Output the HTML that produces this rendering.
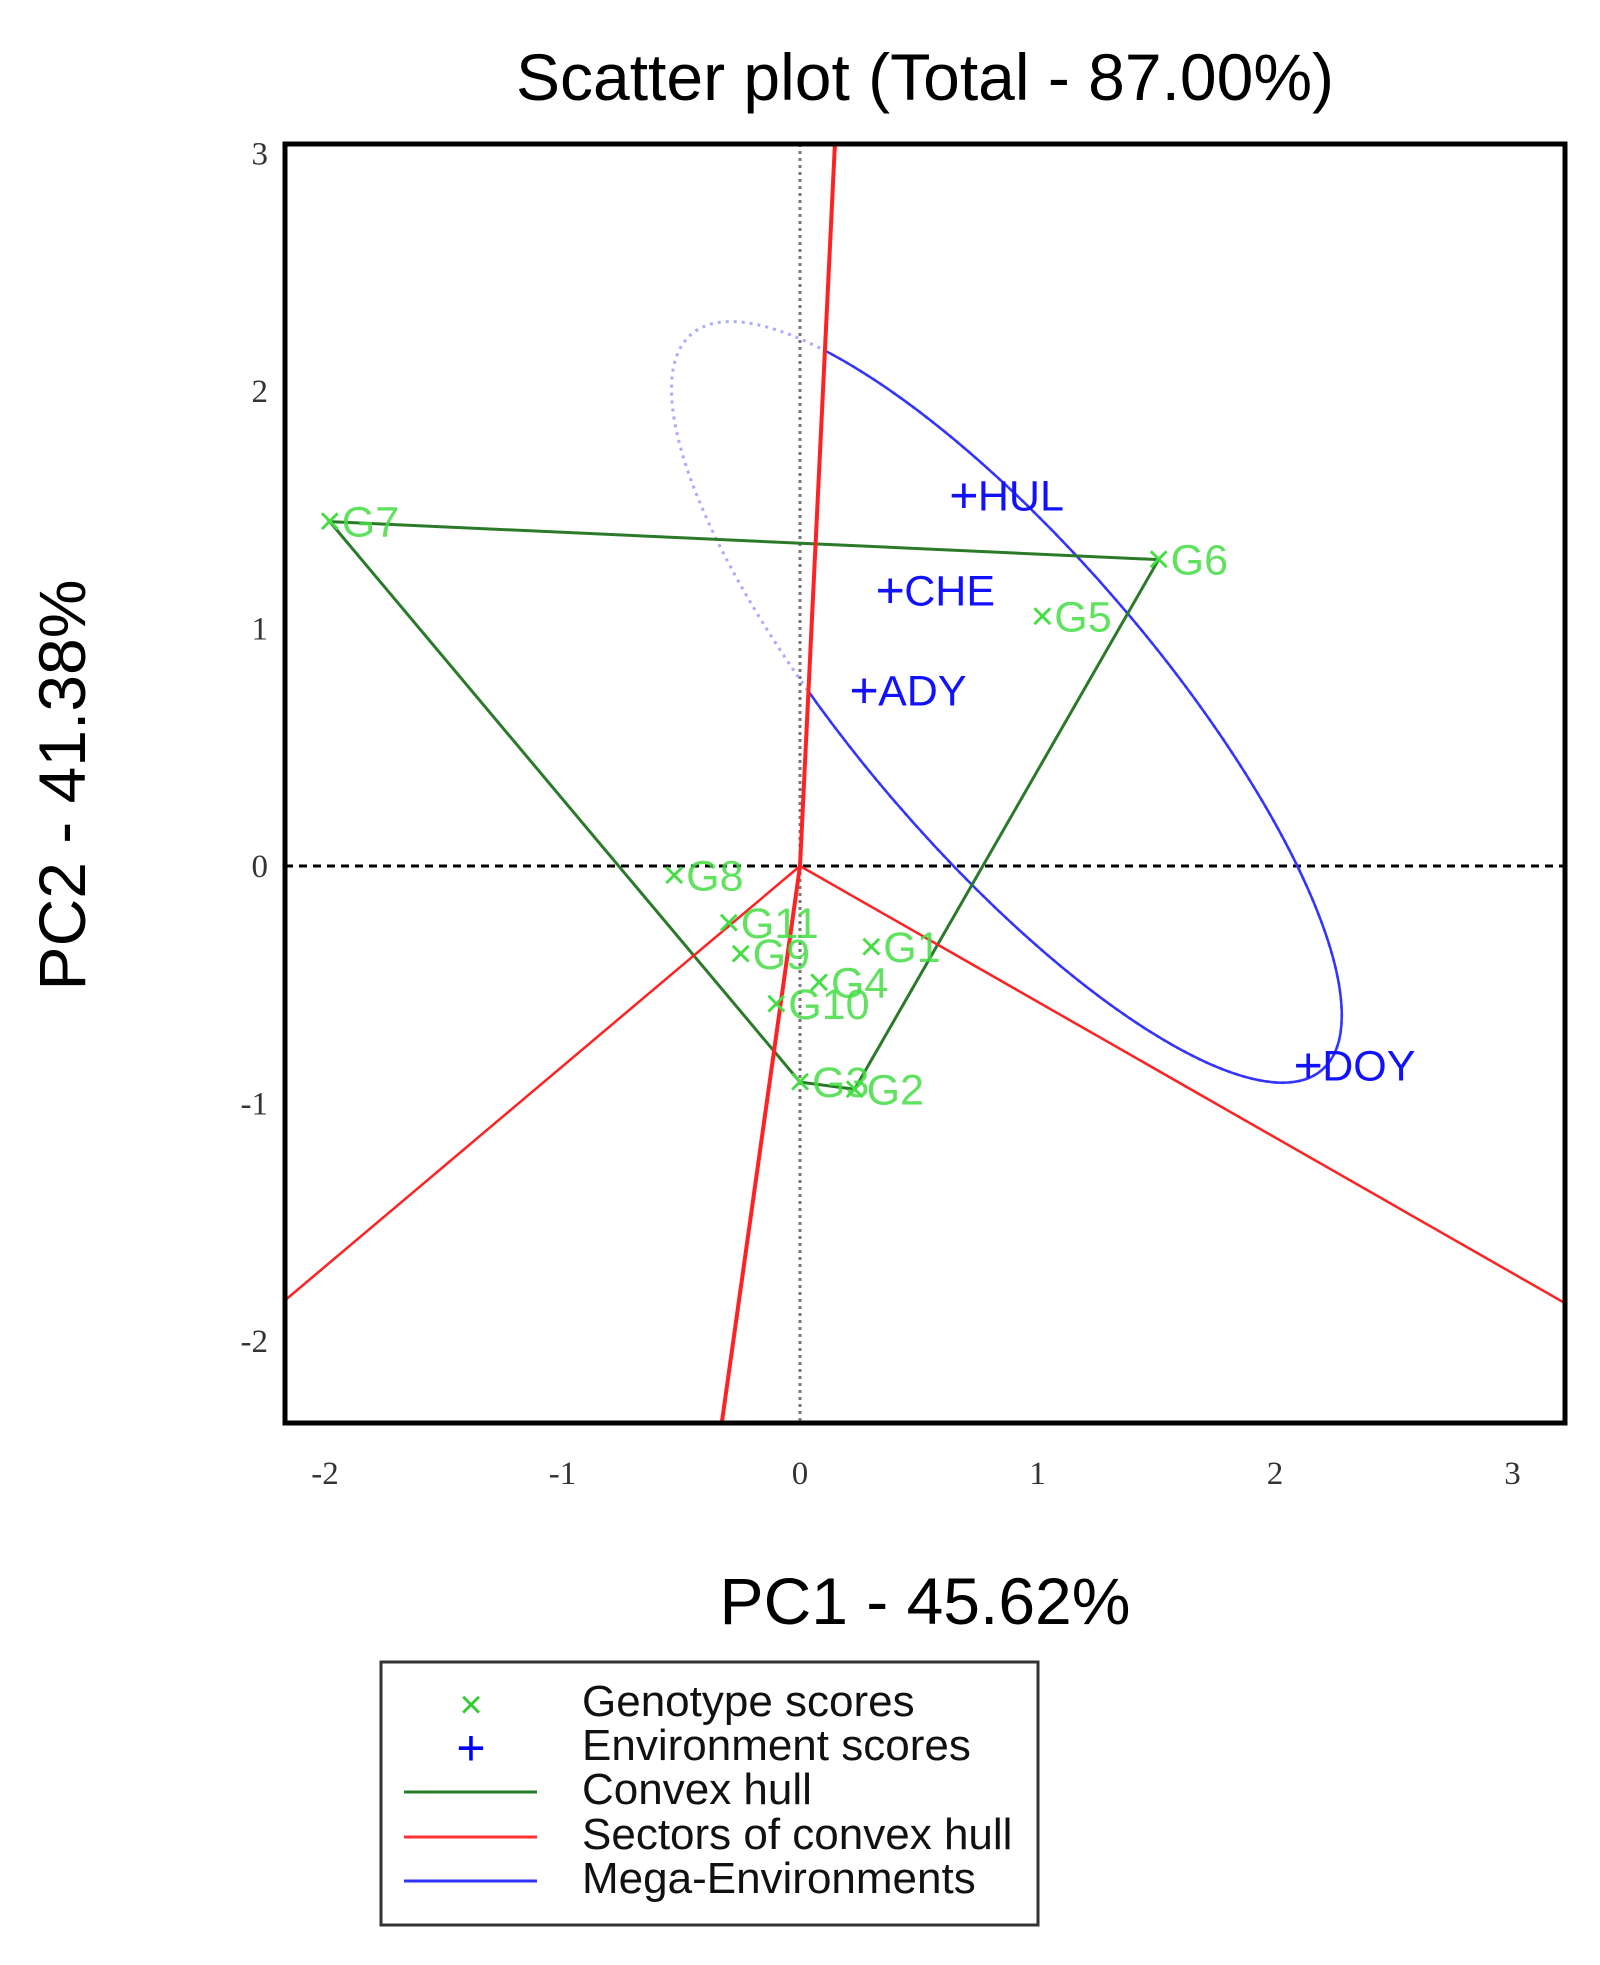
<!DOCTYPE html>
<html><head><meta charset="utf-8"><style>
html,body{margin:0;padding:0;background:#fff;}
svg{display:block;}
</style></head><body>
<svg id="chart" width="1600" height="1965" viewBox="0 0 1600 1965" xmlns="http://www.w3.org/2000/svg">
<defs><clipPath id="plotclip"><rect x="285" y="144" width="1280" height="1279"/></clipPath></defs>
<text x="925" y="100" text-anchor="middle" font-family="Liberation Sans, sans-serif" font-size="66" fill="#000">Scatter plot (Total - 87.00%)</text>
<text x="925" y="1624" text-anchor="middle" font-family="Liberation Sans, sans-serif" font-size="66" fill="#000">PC1 - 45.62%</text>
<text transform="translate(85,785) rotate(-90)" text-anchor="middle" font-family="Liberation Sans, sans-serif" font-size="66" fill="#000">PC2 - 41.38%</text>
<g id="plot" clip-path="url(#plotclip)"></g>
<g id="labels"></g>
<rect x="285" y="144" width="1280" height="1279" fill="none" stroke="#000" stroke-width="5"/>
<g id="ticks"></g>
<g>
<rect x="381" y="1662" width="657" height="263" fill="#fff" stroke="#333" stroke-width="3"/>
<text x="471" y="1718" text-anchor="middle" font-family="Liberation Sans, sans-serif" font-size="40" fill="#3c3">×</text>
<text x="582" y="1716" font-family="Liberation Sans, sans-serif" font-size="44" fill="#111">Genotype scores</text>
<text x="471" y="1765" text-anchor="middle" font-family="Liberation Sans, sans-serif" font-size="50" fill="#00f">+</text>
<text x="582" y="1760" font-family="Liberation Sans, sans-serif" font-size="44" fill="#111">Environment scores</text>
<line x1="404" y1="1792" x2="537" y2="1792" stroke="#2a7a2a" stroke-width="3"/>
<text x="582" y="1804" font-family="Liberation Sans, sans-serif" font-size="44" fill="#111">Convex hull</text>
<line x1="404" y1="1837" x2="537" y2="1837" stroke="#f33" stroke-width="3"/>
<text x="582" y="1849" font-family="Liberation Sans, sans-serif" font-size="44" fill="#111">Sectors of convex hull</text>
<line x1="404" y1="1881" x2="537" y2="1881" stroke="#33f" stroke-width="3"/>
<text x="582" y="1893" font-family="Liberation Sans, sans-serif" font-size="44" fill="#111">Mega-Environments</text>
</g>
</svg>
<script>
const genotypeNames = ["G1","G2","G3","G4","G5","G6","G7","G8","G9","G10","G11"];
const genotypePC1 = [0.30,0.23,0.00,0.08,1.02,1.51,-1.98,-0.53,-0.25,-0.10,-0.30];
const genotypePC2 = [-0.34,-0.94,-0.91,-0.49,1.05,1.29,1.45,-0.04,-0.37,-0.58,-0.24];
const envNames = ["HUL","CHE","ADY","DOY"];
const envPC1 = [0.69,0.38,0.27,2.14];
const envPC2 = [1.56,1.16,0.74,-0.84];
const hullOrder = ["G7","G6","G2","G3"];
const sectorRayPC1 = [0.147,-0.33,-2.17,3.22];
const sectorRayPC2 = [3.04,-2.35,-1.83,-1.84];
const megaEllipse = [0.87,0.69,2.04,0.63,49.4]; // cx, cy, semi-major, semi-minor, angle(deg)
const xTicks = [-2,-1,0,1,2,3];
const yTicks = [-2,-1,0,1,2,3];

const NS="http://www.w3.org/2000/svg";
const X0=800,Y0=866,U=237.5;
const sx=v=>X0+v*U, sy=v=>Y0-v*U;
function mk(tag,attrs,parent){const e=document.createElementNS(NS,tag);for(const k in attrs)e.setAttribute(k,attrs[k]);parent.appendChild(e);return e;}
const plot=document.getElementById('plot'), labels=document.getElementById('labels'), ticks=document.getElementById('ticks');

let e=mk('line',{x1:285,x2:1565,y1:sy(0),y2:sy(0),stroke:'#000','stroke-width':3,'stroke-dasharray':'8 6'},plot);


e=mk('line',{x1:sx(0),x2:sx(0),y1:144,y2:1423,stroke:'#777','stroke-width':3,'stroke-dasharray':'3 4'},plot);



// ellipse
const [ecx,ecy,ea,eb,eang]=megaEllipse;
e=mk('ellipse',{cx:sx(ecx),cy:sy(ecy),rx:ea*U,ry:eb*U,transform:`rotate(${eang} ${sx(ecx)} ${sy(ecy)})`,fill:'none',stroke:'#aaf','stroke-width':3,'stroke-dasharray':'3 5'},plot);


const cp=mk('clipPath',{id:'rightclip'},document.querySelector('defs'));
const dx=sx(sectorRayPC1[0])-X0, dy=sy(sectorRayPC2[0])-Y0, dl=Math.hypot(dx,dy);
const ux=dx/dl, uy=dy/dl;
const p1=[X0+ux*3000,Y0+uy*3000], p2=[X0-ux*3000,Y0-uy*3000];
mk('polygon',{points:`${p1[0]},${p1[1]} ${p1[0]+4000},${p1[1]} ${p2[0]+4000},${p2[1]} ${p2[0]},${p2[1]}`},cp);
const eg=mk('g',{'clip-path':'url(#rightclip)'},plot);
e=mk('ellipse',{cx:sx(ecx),cy:sy(ecy),rx:ea*U,ry:eb*U,transform:`rotate(${eang} ${sx(ecx)} ${sy(ecy)})`,fill:'none',stroke:'#33f','stroke-width':2.5},eg);



// hull
const pts=hullOrder.map(n=>{const i=genotypeNames.indexOf(n);return sx(genotypePC1[i])+','+sy(genotypePC2[i]);});
e=mk('polygon',{points:pts.join(' '),fill:'none',stroke:'#2a7a2a','stroke-width':3},plot);



// sectors
for(let i=0;i<sectorRayPC1.length;i++){
  e=mk('line',{x1:sx(0),y1:sy(0),x2:sx(sectorRayPC1[i]),y2:sy(sectorRayPC2[i]),stroke:'#f22','stroke-width':i<2?4:2.5},plot);
  
  
}

// genotypes
for(let i=0;i<genotypeNames.length;i++){
  const x=sx(genotypePC1[i]),y=sy(genotypePC2[i]);
  e=mk('text',{x:x,y:y+13,'text-anchor':'middle','font-family':'Liberation Sans, sans-serif','font-size':40,fill:'#4d4'},labels);
  e.textContent='×';
  
  
  e=mk('text',{x:x+12,y:y+15,'font-family':'Liberation Sans, sans-serif','font-size':43,fill:'#4d4','fill-opacity':0.85},labels);
  e.textContent=genotypeNames[i];
  
  
}
// environments
for(let i=0;i<envNames.length;i++){
  const x=sx(envPC1[i]),y=sy(envPC2[i]);
  e=mk('text',{x:x,y:y+17,'text-anchor':'middle','font-family':'Liberation Sans, sans-serif','font-size':50,fill:'#11f'},labels);
  e.textContent='+';
  
  
  e=mk('text',{x:x+14,y:y+15,'font-family':'Liberation Sans, sans-serif','font-size':43,fill:'#11f'},labels);
  e.textContent=envNames[i];
  
  
}
// ticks
for(const t of xTicks){
  e=mk('text',{x:sx(t),y:1484,'text-anchor':'middle','font-family':'Liberation Serif, serif','font-size':33,fill:'#333'},ticks);
  e.textContent=t;
  
  
}
for(const t of yTicks){
  e=mk('text',{x:268,y:sy(t)+11,'text-anchor':'end','font-family':'Liberation Serif, serif','font-size':33,fill:'#333'},ticks);
  e.textContent=t;
  
  
}
</script>
</body></html>
